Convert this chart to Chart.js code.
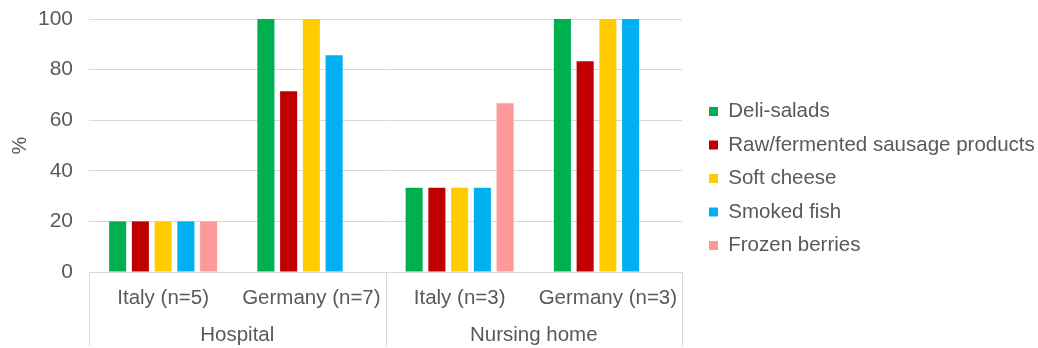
<!DOCTYPE html>
<html>
<head>
<meta charset="utf-8">
<script src="https://cdn.jsdelivr.net/npm/chart.js@4"></script>
<style>
    html, body { margin: 0; padding: 0; background: #fff; }
    #wrap { width: 1038px; height: 348px; }
</style>
</head>
<body>
<div id="wrap"><canvas id="chart" width="1038" height="348"></canvas></div>
<script>
// Données
const countries = ['Italy (n=5)', 'Germany (n=7)', 'Italy (n=3)', 'Germany (n=3)'];
const settings = ['Hospital', 'Nursing home'];
const yTicks = [0, 20, 40, 60, 80, 100];

const deliSalads = [20, 100, 33.3, 100];
const sausage = [20, 71.4, 33.3, 83.3];
const softCheese = [20, 100, 33.3, 100];
const smokedFish = [20, 85.7, 33.3, 100];
const frozenBerries = [20, null, 66.7, null];

const textColor = '#595959';
const gridColor = '#d9d9d9';
const fontFamily = '"Liberation Sans", Arial, sans-serif';

// Etiquettes de groupe + séparateurs verticaux sous l'axe x
const groupLabels = {
    id: 'groupLabels',
    afterDraw(chart) {
        const ctx = chart.ctx;
        const x = chart.scales.x;
        const top = chart.chartArea.bottom;
        const bottom = 346;
        const mid = (x.getPixelForValue(1) + x.getPixelForValue(2)) / 2;

        ctx.save();
        ctx.strokeStyle = gridColor;
        ctx.lineWidth = 1;
        [x.left, mid, x.right].forEach(px => {
            ctx.beginPath();
            ctx.moveTo(Math.round(px) + 0.5, top);
            ctx.lineTo(Math.round(px) + 0.5, bottom);
            ctx.stroke();
        });

        ctx.fillStyle = textColor;
        ctx.font = '20.5px ' + fontFamily;
        ctx.textAlign = 'center';
        ctx.textBaseline = 'middle';
        ctx.fillText(settings[0], (x.left + mid) / 2, 335);
        ctx.fillText(settings[1], (mid + x.right) / 2, 335);
        ctx.restore();
    }
};

// Ajuste la légende : zone du graphique jusqu'à 682px, légende décalée
const legendTweak = {
    id: 'legendTweak',
    beforeLayout(chart) {
        const legend = chart.legend;
        if (!legend || legend._tweaked) return;
        legend._tweaked = true;
        const fit = legend.fit;
        legend.fit = function () {
            fit.call(this);
            this.width = chart.width - 682;
        };
        const draw = legend.draw;
        legend.draw = function () {
            const ctx = this.ctx;
            ctx.save();
            ctx.translate(14, -5);
            draw.call(this);
            ctx.restore();
        };
    }
};

const makeSet = (label, data, color) => ({
    label: label,
    data: data,
    backgroundColor: color,
    borderWidth: 0,
    categoryPercentage: 0.767,
    barPercentage: 0.75
});

new Chart(document.getElementById('chart'), {
    type: 'bar',
    data: {
        labels: countries,
        datasets: [
            makeSet('Deli-salads', deliSalads, '#00b050'),
            makeSet('Raw/fermented sausage products', sausage, '#c00000'),
            makeSet('Soft cheese', softCheese, '#ffcc00'),
            makeSet('Smoked fish', smokedFish, '#00b0f0'),
            makeSet('Frozen berries', frozenBerries, '#ff9999')
        ]
    },
    options: {
        responsive: false,
        animation: false,
        layout: { padding: { top: 19, right: 0, bottom: 0, left: 0 } },
        plugins: {
            tooltip: { enabled: false },
            legend: {
                position: 'right',
                align: 'center',
                labels: {
                    color: textColor,
                    font: { size: 20.5, family: fontFamily },
                    boxWidth: 9,
                    boxHeight: 9,
                    padding: 13
                }
            }
        },
        scales: {
            x: {
                grid: { display: false, drawTicks: false },
                border: { display: true, color: gridColor },
                ticks: {
                    color: textColor,
                    font: { size: 20.5, family: fontFamily },
                    padding: 14,
                    maxRotation: 0,
                    autoSkip: false
                },
                afterFit(scale) { scale.height = 76; }
            },
            y: {
                min: 0,
                max: 100,
                afterBuildTicks(scale) {
                    scale.ticks = yTicks.map(v => ({ value: v }));
                },
                grid: { color: gridColor, drawTicks: false },
                border: { display: false },
                ticks: {
                    color: textColor,
                    font: { size: 21, family: fontFamily },
                    padding: 16
                },
                title: {
                    display: true,
                    text: '%',
                    color: textColor,
                    font: { size: 20, family: fontFamily },
                    padding: { top: 8, bottom: 0 }
                },
                afterFit(scale) {
                    scale.width = 89;
                    scale.paddingTop = 0;
                    scale.paddingBottom = 0;
                }
            }
        }
    },
    plugins: [groupLabels, legendTweak]
});
</script>
</body>
</html>
